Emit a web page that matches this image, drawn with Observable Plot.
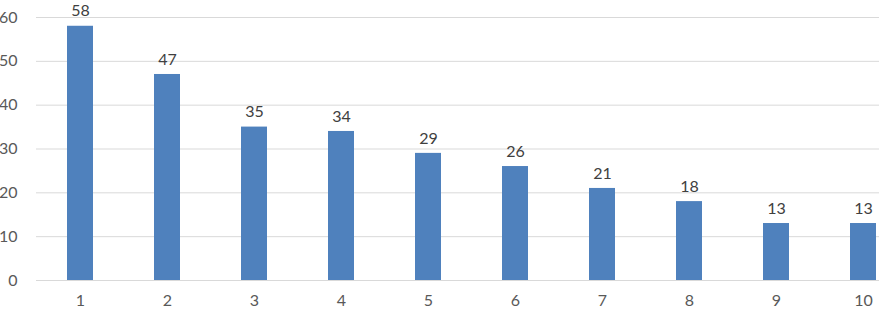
<!DOCTYPE html>
<html>
<head>
<meta charset="utf-8">
<script src="https://cdn.jsdelivr.net/npm/d3@7"></script>
<script src="https://cdn.jsdelivr.net/npm/@observablehq/plot@0.6"></script>
<style>
  html, body { margin: 0; padding: 0; background: #fff; overflow: hidden; }
  #chart svg { display: block; }
</style>
</head>
<body>
<div id="chart"></div>
<script>
const categories = ["1","2","3","4","5","6","7","8","9","10"];
const values = [58, 47, 35, 34, 29, 26, 21, 18, 13, 13];
const yTicks = [0, 10, 20, 30, 40, 50, 60];

const data = categories.map((c, i) => ({category: c, value: values[i]}));

const chart = Plot.plot({
  width: 879,
  height: 311,
  marginLeft: 36,
  marginRight: -29,
  marginTop: 17,
  marginBottom: 31,
  style: {fontFamily: "Lato, 'Open Sans', sans-serif", fontSize: "16px", color: "#595959", background: "#fff"},
  x: {domain: categories, paddingInner: 0.7, paddingOuter: 0.35, label: null},
  y: {domain: [0, 60], label: null},
  marks: [
    Plot.ruleY(yTicks, {stroke: "#d9d9d9", strokeWidth: 1}),
    Plot.barY(data, {x: "category", y: "value", fill: "#4f81bd"}),
    Plot.text(data, {x: "category", y: "value", text: d => String(d.value), dy: -15, fill: "#404040", fontSize: 16}),
    Plot.axisY({ticks: yTicks, tickSize: 0, tickPadding: 19, tickFormat: d => String(d), fill: "#595959", fontSize: 16}),
    Plot.axisX({tickSize: 0, tickPadding: 14, fill: "#595959", fontSize: 16})
  ]
});
document.getElementById("chart").appendChild(chart);
</script>
</body>
</html>
